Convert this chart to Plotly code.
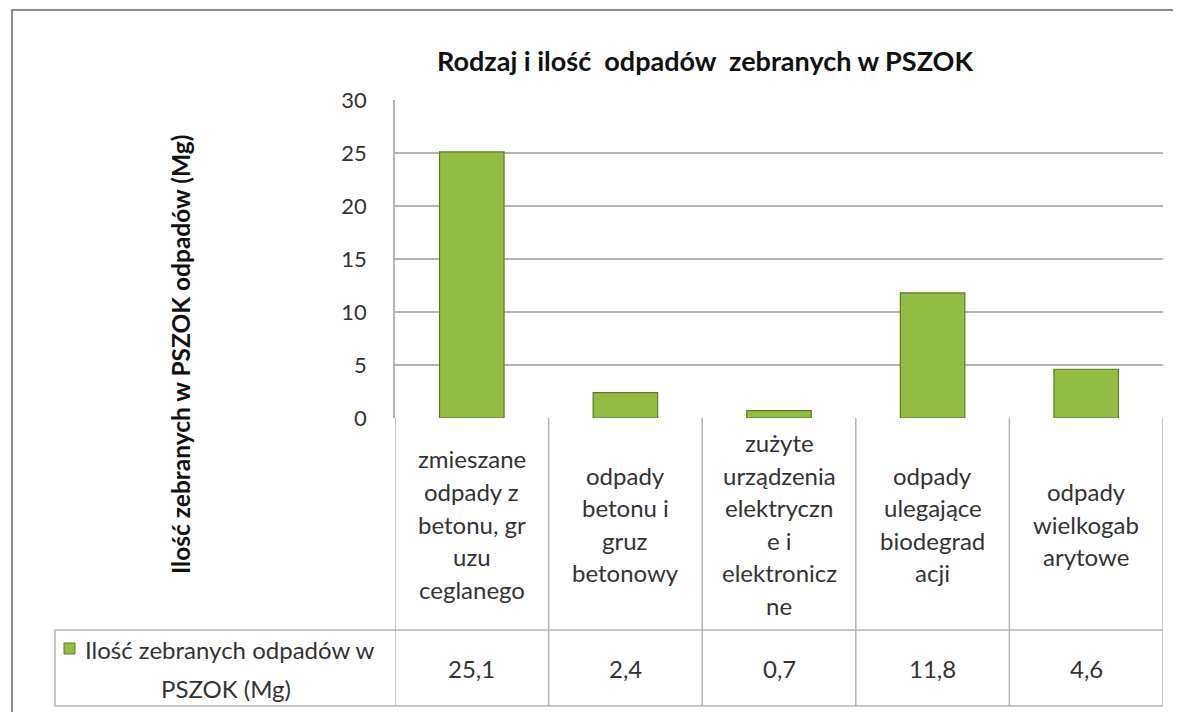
import plotly.graph_objects as go

title = "Rodzaj i ilość  odpadów  zebranych w PSZOK"
y_title = "Ilość zebranych w PSZOK odpadów (Mg)"
series_name_lines = ["Ilość zebranych odpadów w", "PSZOK (Mg)"]
category_lines = [
    ["zmieszane", "odpady z", "betonu, gr", "uzu", "ceglanego"],
    ["odpady", "betonu i", "gruz", "betonowy"],
    ["zużyte", "urządzenia", "elektryczn", "e i", "elektronicz", "ne"],
    ["odpady", "ulegające", "biodegrad", "acji"],
    ["odpady", "wielkogab", "arytowe"],
]
values = [25.1, 2.4, 0.7, 11.8, 4.6]
y_ticks = [0, 5, 10, 15, 20, 25, 30]

OFF = 8  # page body margin
W, H = 1181 - OFF, 712 - OFF
L, R, T, B = 395 - OFF, 18, 100 - OFF, 294
PW, PH = W - L - R, H - T - B
FONT = "Lato"
GRID = "#b4b4b4"
TXT = "#333333"

def py(p):  # page pixel y -> paper y
    return (H - B - (p - OFF)) / PH

def px(p):  # page pixel x -> paper x
    return (p - OFF - L) / PW

xs = list(range(len(values)))

fig = go.Figure()
fig.add_trace(go.Bar(
    x=xs, y=values, width=0.42,
    marker=dict(color="#93bc42", line=dict(color="#5e7b23", width=1.2)),
    hoverinfo="skip", showlegend=False,
))

shapes = []
ann = []
for i in range(len(values) + 1):
    shapes.append(dict(type="line", xref="x", yref="paper", x0=i - 0.5, x1=i - 0.5,
                       y0=py(418), y1=py(706), line=dict(color=GRID, width=1.5)))
for yy in (630, 706):
    shapes.append(dict(type="line", xref="paper", yref="paper", x0=px(55), x1=1,
                       y0=py(yy), y1=py(yy), line=dict(color=GRID, width=1.5)))
shapes.append(dict(type="line", xref="paper", yref="paper", x0=px(55), x1=px(55),
                   y0=py(630), y1=py(706), line=dict(color=GRID, width=1.5)))
shapes.append(dict(type="rect", xref="paper", yref="paper", x0=px(12), x1=px(1220),
                   y0=py(10), y1=py(760), line=dict(color="#8c8c8c", width=2)))
shapes.append(dict(type="rect", xref="paper", yref="paper", x0=px(64), x1=px(75),
                   y0=py(654), y1=py(643), fillcolor="#93bc42",
                   line=dict(color="#5e7b23", width=1)))

FS = 24
LS = 32.6
for i, lines in enumerate(category_lines):
    n = len(lines)
    for k, t in enumerate(lines):
        yc = 524 + (k - (n - 1) / 2) * LS
        ann.append(dict(x=i, xref="x", y=py(yc), yref="paper", text=t, showarrow=False,
                        xanchor="center", yanchor="middle",
                        font=dict(family=FONT, size=FS, color=TXT)))
for i, v in enumerate(values):
    ann.append(dict(x=i, xref="x", y=py(668), yref="paper", text=f"{v:.1f}".replace(".", ","),
                    showarrow=False, xanchor="center", yanchor="middle",
                    font=dict(family=FONT, size=FS, color=TXT)))
ann.append(dict(x=px(83), xref="paper", y=py(649), yref="paper", text=series_name_lines[0],
                showarrow=False, xanchor="left", yanchor="middle",
                font=dict(family=FONT, size=FS, color=TXT)))
ann.append(dict(x=px(226), xref="paper", y=py(688), yref="paper", text=series_name_lines[1],
                showarrow=False, xanchor="center", yanchor="middle",
                font=dict(family=FONT, size=FS, color=TXT)))
ann.append(dict(x=px(705), xref="paper", y=py(60), yref="paper", text=f"<b>{title}</b>",
                showarrow=False, xanchor="center", yanchor="middle",
                font=dict(family=FONT, size=27, color="#111111")))
ann.append(dict(x=px(180), xref="paper", y=py(355), yref="paper", text=f"<b>{y_title}</b>",
                showarrow=False, xanchor="center", yanchor="middle", textangle=-90,
                font=dict(family=FONT, size=24.5, color="#111111")))

fig.update_layout(
    width=W, height=H, margin=dict(l=L, r=R, t=T, b=B),
    paper_bgcolor="white", plot_bgcolor="white",
    shapes=shapes, annotations=ann,
    xaxis=dict(range=[-0.5, len(values) - 0.5], showticklabels=False, showgrid=False,
               zeroline=False, showline=False, fixedrange=True),
    yaxis=dict(range=[0, 30], tickvals=y_ticks, showgrid=True, gridcolor=GRID, gridwidth=1.5,
               zeroline=False, showline=True, linecolor=GRID, linewidth=1.5,
               ticks="", ticklabelstandoff=22,
               tickfont=dict(family=FONT, size=22, color=TXT), fixedrange=True),
    bargap=0.58,
)
fig.write_html("out.html")
